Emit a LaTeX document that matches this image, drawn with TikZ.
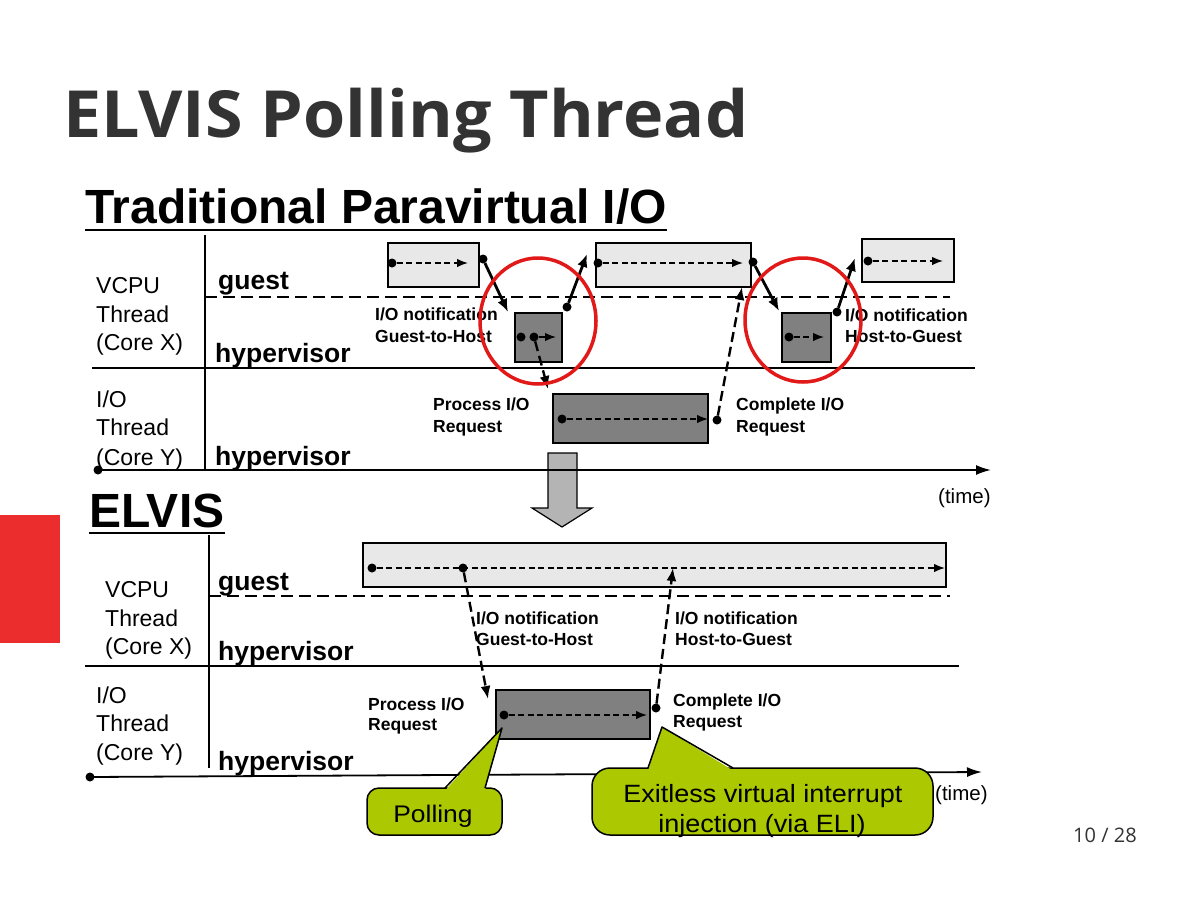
\documentclass[tikz,border=0pt]{standalone}
\usepackage{fontspec}
\setmainfont{Liberation Sans}
\newfontfamily\osans{Open Sans}
\usetikzlibrary{arrows.meta,calc}
\definecolor{lightfill}{RGB}{232,232,232}
\definecolor{darkfill}{RGB}{128,128,128}
\definecolor{arrowfill}{RGB}{180,180,180}
\definecolor{callfill}{RGB}{172,200,0}
\definecolor{titlegray}{RGB}{51,51,51}
\definecolor{slidered}{RGB}{236,45,45}
\definecolor{circred}{RGB}{225,25,25}
\begin{document}
\begin{tikzpicture}[x=1pt,y=-1pt,
 lbox/.style={draw=black, line width=1.5pt, fill=lightfill, anchor=north west, inner sep=0pt, outer sep=0pt},
 dbox/.style={lbox, fill=darkfill},
 dot/.style={circle, fill=black, inner sep=0pt, minimum size=9pt, outer sep=0pt},
 flow/.style={line width=1.5pt, dash pattern=on 6pt off 3.5pt, -{Latex[length=11pt,width=8.5pt]}},
 conn/.style={line width=2.8pt, -{Latex[length=13pt,width=10.5pt]}},
 vconn/.style={line width=2.4pt, dash pattern=on 10pt off 5pt, -{Latex[length=13pt,width=10pt]}},
 lab/.style={font=\fontsize{23}{28}\selectfont, anchor=base west, inner sep=0pt},
 lev/.style={font=\bfseries\fontsize{26.5}{30}\selectfont, anchor=base west, inner sep=0pt},
 small/.style={font=\bfseries\fontsize{17.5}{21}\selectfont, anchor=base west, inner sep=0pt},
 timelab/.style={font=\fontsize{20.5}{24}\selectfont, anchor=base west, inner sep=0pt},
 axis/.style={line width=1.8pt, -{Latex[length=15pt,width=10pt]}},
 gline/.style={line width=2.5pt, dash pattern=on 12pt off 6pt},
 hline/.style={line width=1.8pt},
 callbox/.style={draw=black, line width=1.5pt, fill=callfill, anchor=north west, inner sep=0pt, outer sep=0pt},
 redc/.style={draw=circred, line width=3.5pt},
 heading/.style={font=\bfseries\fontsize{48}{52}\selectfont, anchor=base west, inner sep=0pt}
]
\useasboundingbox[fill=white] (0,0) rectangle (1200,900);

% slide decorations
\fill[slidered] (0,515) rectangle (60,643);
\node[anchor=base west, inner sep=0pt, text=titlegray, font=\osans\bfseries\fontsize{65}{70}\selectfont] (title) at (63,137) {\scalebox{1.05}[1]{ELVIS Polling Thread}};
\node[anchor=base west, inner sep=0pt, text=titlegray, font=\osans\fontsize{20}{24}\selectfont] (page) at (1073,842) {10 / 28};

% ===== Traditional =====
\node[heading] (trad) at (85,223) {Traditional Paravirtual I/O};
\draw[line width=2.5pt] ($(trad.base west)+(0,7)$) -- ($(trad.base east)+(0,7)$);

\draw[line width=1.8pt] (205,235) -- (205,470);
\draw[gline] (205,297) -- (950,297);
\draw[hline] (92,368) -- (975,368);

\node[lab] (tv1) at (96,293) {VCPU};
\node[lab] (tv2) at (96,322) {Thread};
\node[lab] (tv3) at (96,350) {(Core X)};
\node[lab] (ti1) at (96,407) {I/O};
\node[lab] (ti2) at (96,435) {Thread};
\node[lab] (ti3) at (96,465) {(Core Y)};
\node[lev] (tguest) at (218,289) {guest};
\node[lev] (thyp1) at (215,362) {hypervisor};
\node[lev] (thyp2) at (215,465) {hypervisor};

% boxes
\node[lbox, minimum width=91pt, minimum height=44pt] (g1) at (388,243) {};
\node[dbox, minimum width=47pt, minimum height=49pt] (h1) at (515,313) {};
\node[lbox, minimum width=155pt, minimum height=44pt] (g2) at (596,243) {};
\node[dbox, minimum width=155pt, minimum height=49pt] (p1) at (553,394) {};
\node[dbox, minimum width=49pt, minimum height=49pt] (h2) at (782,313) {};
\node[lbox, minimum width=92pt, minimum height=43pt] (g3) at (862,239) {};

% flows inside boxes
\node[dot] (g1a) at (392,263) {}; \coordinate (g1e) at (468,263);
\draw[flow] (g1a) -- (g1e);
\node[dot] (h1a) at (521,337) {}; \node[dot] (h1b) at (534,337) {}; \coordinate (h1e) at (556,337);
\draw[flow] (h1b) -- (h1e);
\node[dot] (g2a) at (598,263) {}; \coordinate (g2e) at (743,263);
\draw[flow] (g2a) -- (g2e);
\node[dot] (p1a) at (562,419) {}; \coordinate (p1e) at (708,419);
\draw[flow] (p1a) -- (p1e);
\node[dot] (h2a) at (789,337) {}; \coordinate (h2e) at (824,337);
\draw[flow] (h2a) -- (h2e);
\node[dot] (g3a) at (868,261) {}; \coordinate (g3e) at (943,261);
\draw[flow] (g3a) -- (g3e);

% connectors
\node[dot] (c1) at (483,259) {}; \coordinate (c1e) at (508,312);
\draw[conn] (c1) -- (c1e);
\node[dot] (c2) at (567,307) {}; \coordinate (c2e) at (587,254);
\draw[conn] (c2) -- (c2e);
\coordinate (c3e) at (548,389);
\draw[vconn] (h1b) -- (c3e);
\node[dot] (c4) at (717,420) {}; \coordinate (c4e) at (742,287);
\draw[vconn] (c4) -- (c4e);
\node[dot] (c5) at (753,262) {}; \coordinate (c5e) at (779,311);
\draw[conn] (c5) -- (c5e);
\node[dot] (c6) at (837,312) {}; \coordinate (c6e) at (855,258);
\draw[conn] (c6) -- (c6e);

% labels
\node[small] (tn1a) at (375,320) {I/O notification};
\node[small] (tn1b) at (375,342) {Guest-to-Host};
\node[small] (tpr1) at (433,410) {Process I/O};
\node[small] (tpr2) at (433,432) {Request};
\node[small] (tcp1) at (736,410) {Complete I/O};
\node[small] (tcp2) at (736,432) {Request};
\node[small] (tn2a) at (845,321) {I/O notification};
\node[small] (tn2b) at (845,342) {Host-to-Guest};
\node[timelab] (ttime) at (938,503) {(time)};

% red circles
\draw[redc] (538,321) ellipse [x radius=58, y radius=63];
\draw[redc] (803,320) ellipse [x radius=58, y radius=62];

% block arrow
\draw[fill=arrowfill, line width=1.2pt, line join=miter] (548,453) -- (577,453) -- (577,508) -- (592,508) -- (562,527) -- (532,508) -- (548,508) -- cycle;

% time axis top
\node[dot] (t1s) at (98,470) {}; \coordinate (t1e) at (991,470);
\draw[axis] (t1s.center) -- (t1e);

% ===== ELVIS =====
\node[heading] (elvis) at (89,527) {ELVIS};
\draw[line width=2.5pt] ($(elvis.base west)+(0,6)$) -- ($(elvis.base east)+(0,6)$);

\draw[line width=1.8pt] (209,535) -- (209,768);
\draw[gline] (209,596) -- (950,596);
\draw[hline] (85,666) -- (959,666);

\node[lab] (bv1) at (105,597) {VCPU};
\node[lab] (bv2) at (105,626) {Thread};
\node[lab] (bv3) at (105,654) {(Core X)};
\node[lab] (bi1) at (96,703) {I/O};
\node[lab] (bi2) at (96,731) {Thread};
\node[lab] (bi3) at (96,760) {(Core Y)};
\node[lev] (bguest) at (218,590) {guest};
\node[lev] (bhyp1) at (218,660) {hypervisor};
\node[lev] (bhyp2) at (218,770) {hypervisor};

\node[lbox, minimum width=583pt, minimum height=44pt] (G) at (363,543) {};
\node[dbox, minimum width=154pt, minimum height=49pt] (P) at (496,690) {};

\node[dot] (Ga) at (372,568) {}; \coordinate (Ge) at (945,568);
\draw[flow] (Ga) -- (Ge);
\node[dot] (Gb) at (463,568) {};
\node[dot] (Pa) at (504,715) {}; \coordinate (Pe) at (647,715);
\draw[flow] (Pa) -- (Pe);

\coordinate (d1e) at (488,699);
\draw[vconn] (Gb) -- (d1e);
\node[dot] (Pc) at (656,708) {}; \coordinate (d2e) at (673,568);
\draw[vconn] (Pc) -- (d2e);

\node[small] (bn1a) at (476,624) {I/O notification};
\node[small] (bn1b) at (476,645) {Guest-to-Host};
\node[small] (bn2a) at (675,624) {I/O notification};
\node[small] (bn2b) at (675,645) {Host-to-Guest};
\node[small] (bpr1) at (368,710) {Process I/O};
\node[small] (bpr2) at (368,730) {Request};
\node[small] (bcp1) at (673,706) {Complete I/O};
\node[small] (bcp2) at (673,727) {Request};
\node[timelab] (btime) at (935,800) {(time)};

% time axis bottom
\node[dot] (t2s) at (90,777) {}; \coordinate (t2e) at (982,772);
\draw[axis] (t2s.center) -- (t2e);

% callout: Polling
\node[callbox, rounded corners=12pt, minimum width=135pt, minimum height=47pt] (poll) at (367,788) {};
\coordinate (pollTip) at (502,728);
\coordinate (pollB1) at (445,788); \coordinate (pollB2) at (485,788);
\fill[callfill] ($(pollB1)+(0,2.5)$) -- (pollTip) -- ($(pollB2)+(0,2.5)$) -- cycle;
\draw[line width=1.5pt, line join=round] (pollB1) -- (pollTip) -- (pollB2);
\node[anchor=base, inner sep=0pt, font=\fontsize{24}{28}\selectfont] (polltxt) at (433,822) {\scalebox{1.1}[1]{Polling}};

% callout: Exitless
\node[callbox, rounded corners=18pt, minimum width=341pt, minimum height=67pt] (eli) at (592,768) {};
\coordinate (eliTip) at (662,727);
\coordinate (eliB1) at (648,768); \coordinate (eliB2) at (733,768);
\fill[callfill] ($(eliB1)+(0,2.5)$) -- (eliTip) -- ($(eliB2)+(0,2.5)$) -- cycle;
\draw[line width=1.5pt, line join=round] (eliB1) -- (eliTip) -- (eliB2);
\node[anchor=base, inner sep=0pt, font=\fontsize{25}{30}\selectfont] (elitxt1) at (763,802) {\scalebox{1.08}[1]{Exitless virtual interrupt}};
\node[anchor=base, inner sep=0pt, font=\fontsize{25}{30}\selectfont] (elitxt2) at (762,832) {\scalebox{1.08}[1]{injection (via ELI)}};
\end{tikzpicture}
\end{document}
